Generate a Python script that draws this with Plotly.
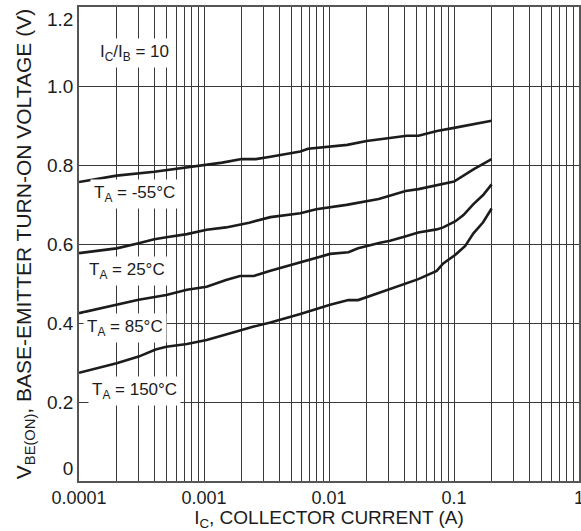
import math
import plotly.graph_objects as go

# ---- data ----
ic_m55 = [1e-4, 2e-4, 4e-4, 5e-4, 9.3e-4, 1.4e-3, 2e-3, 2.6e-3, 3.4e-3, 5.9e-3, 6.8e-3,
          1e-2, 1.4e-2, 2e-2, 3e-2, 4.2e-2, 5.2e-2, 7.3e-2, 0.1, 0.2]
vbe_m55 = [0.757, 0.773, 0.783, 0.787, 0.799, 0.806, 0.815, 0.815, 0.821, 0.834, 0.841,
           0.846, 0.851, 0.861, 0.869, 0.874, 0.874, 0.886, 0.894, 0.912]

ic_25 = [1e-4, 2e-4, 3e-4, 4e-4, 5e-4, 7.3e-4, 1.05e-3, 1.5e-3, 2.3e-3, 3.4e-3, 5.9e-3,
         7.9e-3, 1.38e-2, 2.5e-2, 4.1e-2, 5.2e-2, 0.1, 0.143, 0.2]
vbe_25 = [0.577, 0.589, 0.602, 0.612, 0.617, 0.625, 0.636, 0.642, 0.654, 0.668, 0.678,
          0.688, 0.699, 0.714, 0.734, 0.739, 0.758, 0.789, 0.815]

ic_85 = [1e-4, 2e-4, 3e-4, 5e-4, 7.3e-4, 1.05e-3, 1.5e-3, 1.94e-3, 2.5e-3, 3.4e-3, 5.9e-3,
         1.02e-2, 1.43e-2, 1.71e-2, 2.56e-2, 3.08e-2, 4.06e-2, 5.18e-2, 7.27e-2, 8.2e-2,
         0.102, 0.119, 0.143, 0.171, 0.2]
vbe_85 = [0.425, 0.446, 0.459, 0.471, 0.484, 0.492, 0.509, 0.519, 0.519, 0.532, 0.553,
          0.575, 0.579, 0.589, 0.603, 0.608, 0.619, 0.629, 0.637, 0.642,
          0.657, 0.673, 0.701, 0.724, 0.751]

ic_150 = [1e-4, 2e-4, 3e-4, 4.1e-4, 5e-4, 7.3e-4, 1.05e-3, 1.5e-3, 1.94e-3, 2.5e-3, 3.4e-3,
          5.9e-3, 1.02e-2, 1.43e-2, 1.71e-2, 2.56e-2, 4.06e-2, 5.18e-2, 7.27e-2, 8.2e-2,
          0.102, 0.123, 0.143, 0.171, 0.2]
vbe_150 = [0.274, 0.298, 0.315, 0.333, 0.340, 0.347, 0.357, 0.370, 0.381, 0.391, 0.401,
           0.423, 0.446, 0.458, 0.458, 0.477, 0.498, 0.511, 0.532, 0.551,
           0.572, 0.595, 0.627, 0.655, 0.690]

x_decades = [1e-4, 1e-3, 1e-2, 1e-1, 1]
x_decade_labels = ["0.0001", "0.001", "0.01", "0.1", "1"]
y_ticks = [0, 0.2, 0.4, 0.6, 0.8, 1.0, 1.2]
y_tick_labels = ["0", "0.2", "0.4", "0.6", "0.8", "1.0", "1.2"]

series_labels = ["T<sub>A</sub> = -55°C", "T<sub>A</sub> = 25°C",
                 "T<sub>A</sub> = 85°C", "T<sub>A</sub> = 150°C"]
ratio_label = "I<sub>C</sub>/I<sub>B</sub> = 10"

FONT = "Liberation Sans, Arial, Helvetica, sans-serif"
INK = "#1c1c1c"
GRID = "#3a3a3a"

# grid at every 1..9 x 10^n
x_tickvals, x_ticktext = [], []
for d, lab in zip(x_decades[:-1], x_decade_labels[:-1]):
    for k in range(1, 10):
        x_tickvals.append(k * d)
        x_ticktext.append(lab if k == 1 else "")
x_tickvals.append(x_decades[-1])
x_ticktext.append(x_decade_labels[-1])

# end labels nudged inward, as in the reference
y_ticktext = list(y_tick_labels)
y_ticktext[0] = y_ticktext[0] + "<br> "
y_ticktext[-1] = " <br>" + y_ticktext[-1]

fig = go.Figure()
for xs, ys in [(ic_m55, vbe_m55), (ic_25, vbe_25), (ic_85, vbe_85), (ic_150, vbe_150)]:
    fig.add_trace(go.Scatter(x=xs, y=ys, mode="lines",
                             line=dict(color=INK, width=2.6), showlegend=False,
                             hoverinfo="skip"))

label_pos = [(0.022, 0.606), (0.012, 0.443), (0.008, 0.323), (0.018, 0.19)]
for txt, (px, py) in zip(series_labels, label_pos):
    fig.add_annotation(xref="paper", yref="paper", x=px, y=py, text=txt,
                       showarrow=False, xanchor="left", yanchor="middle",
                       bgcolor="white", borderpad=3,
                       font=dict(family=FONT, size=17, color=INK))
fig.add_annotation(xref="paper", yref="paper", x=0.033, y=0.903, text=ratio_label,
                   showarrow=False, xanchor="left", yanchor="middle",
                   bgcolor="white", borderpad=3,
                   font=dict(family=FONT, size=17, color=INK))

fig.update_layout(
    width=581, height=531,
    margin=dict(l=79, r=2, t=7, b=50),
    paper_bgcolor="white", plot_bgcolor="white",
    font=dict(family=FONT, size=19, color=INK),
    xaxis=dict(type="log", range=[math.log10(x_decades[0]), math.log10(x_decades[-1])],
               tickmode="array", tickvals=x_tickvals, ticktext=x_ticktext,
               showgrid=True, gridcolor=GRID, gridwidth=1,
               showline=True, linecolor="#555", linewidth=1.5, mirror=True,
               ticks="", zeroline=False, ticklabeloverflow="allow",
               title=dict(text="I<sub>C</sub>, COLLECTOR CURRENT (A)",
                          font=dict(family=FONT, size=19, color=INK)),
               tickfont=dict(family=FONT, size=18, color=INK), automargin=False),
    yaxis=dict(range=[y_ticks[0], y_ticks[-1]], tickmode="array",
               tickvals=y_ticks, ticktext=y_ticktext,
               showgrid=True, gridcolor=GRID, gridwidth=1,
               showline=True, linecolor="#555", linewidth=1.5, mirror=True,
               ticks="", zeroline=False, ticklabeloverflow="allow",
               title=dict(text="V<sub>BE(ON)</sub>, BASE-EMITTER TURN-ON VOLTAGE (V)",
                          standoff=10, font=dict(family=FONT, size=21, color=INK)),
               tickfont=dict(family=FONT, size=19, color=INK), automargin="left"),
)

fig.write_html("out.html", config={"displayModeBar": False},
               post_script="document.body.style.margin='0';document.body.style.overflow='hidden';")
